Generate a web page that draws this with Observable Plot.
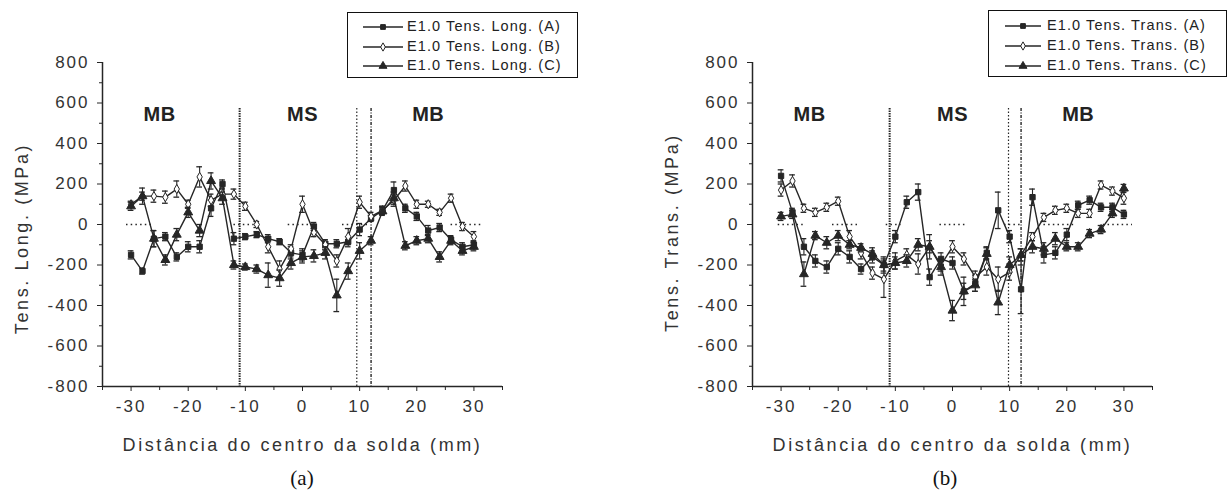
<!DOCTYPE html>
<html><head><meta charset="utf-8">
<script src="https://cdn.jsdelivr.net/npm/d3@7"></script>
<script src="https://cdn.jsdelivr.net/npm/@observablehq/plot@0.6"></script>
<style>
body{margin:0;background:#fff;width:1231px;height:491px;position:relative;overflow:hidden;font-family:"Liberation Sans",Arial,sans-serif;}
.panel{position:absolute;top:0;}
.legend{position:absolute;border:1.5px solid #111;background:#fff;box-sizing:border-box;}
.legend .row{position:absolute;left:0;height:20px;font-size:14.5px;letter-spacing:1.1px;color:#222;white-space:nowrap}
.legend .row svg{position:absolute;top:3px}
.legend .row span{position:absolute;top:1px}
.caption{position:absolute;font-family:"Liberation Serif","Times New Roman",serif;font-size:21px;color:#111;transform:translate(-50%,-50%)}
</style></head>
<body>
<div id="root"></div>
<script>
// ---- categories / ticks ----
const positions = [-30,-28,-26,-24,-22,-20,-18,-16,-14,-12,-10,-8,-6,-4,-2,0,2,4,6,8,10,12,14,16,18,20,22,24,26,28,30];
const xTicks = [-30,-20,-10,0,10,20,30];
const xMinorTicks = [-35,-25,-15,-5,5,15,25,35];
const yTicks = [-800,-600,-400,-200,0,200,400,600,800];
const yMinorTicks = [-700,-500,-300,-100,100,300,500,700];
const xTitle = "Distância do centro da solda (mm)";
const zoneNames = ["MB","MS","MB"];
const zoneX = [-25, 0, 22];
const zoneY = 543;
const boundaryTop = 573;

// ---- panel (a): longitudinal stress ----
const longA = [-150,-230,-70,-60,-160,-110,-110,80,200,-70,-60,-50,-70,-85,-140,-150,-10,-95,-95,-85,-25,30,70,170,80,40,-30,-15,-75,-110,-100];
const longB = [100,140,140,135,175,100,235,120,150,150,90,0,-110,-220,-120,100,-40,-100,-180,-60,110,40,70,120,190,100,100,60,130,-10,-60];
const longC = [90,140,-70,-175,-50,60,-30,215,130,-200,-210,-220,-250,-265,-190,-160,-155,-140,-350,-230,-130,-80,65,130,-105,-80,-70,-160,-80,-130,-110];
const longAerr = [20,15,40,20,20,25,30,40,20,30,15,15,20,15,30,30,20,20,20,25,30,15,20,40,20,20,25,20,20,20,20];
const longBerr = [15,20,30,30,40,20,50,30,25,25,20,15,30,40,20,40,20,25,30,40,30,20,20,30,25,20,15,15,20,20,25];
const longCerr = [20,40,40,25,30,25,30,40,30,20,15,20,60,40,30,30,30,30,80,40,40,20,20,30,20,20,20,25,20,20,20];
const longZeroFrom = [-30.8,-12,-2.5,7,26];
const longZeroTo = [-26.3,-8,2.5,11.9,31.2];
const longBoundaries = [-11,9.5,12];
const longLegend = ["E1.0 Tens. Long. (A)","E1.0 Tens. Long. (B)","E1.0 Tens. Long. (C)"];
const longYTitle = "Tens. Long. (MPa)";

// ---- panel (b): transverse stress ----
const transA = [240,60,-110,-180,-210,-120,-160,-220,-160,-200,-60,110,160,-260,-170,-190,-330,-290,-140,70,-60,-320,135,-150,-140,-50,95,120,85,85,50];
const transB = [170,215,80,60,85,115,-60,-140,-240,-270,-180,-150,-195,-110,-200,-110,-170,-260,-210,-270,-235,-150,-60,35,70,80,55,55,195,165,130];
const transC = [40,50,-245,-55,-90,-55,-100,-115,-145,-200,-190,-180,-100,-110,-210,-425,-330,-300,-145,-385,-200,-150,-110,-120,-70,-110,-110,-45,-25,55,178];
const transAerr = [30,20,40,30,30,30,30,25,30,40,30,30,40,40,30,30,40,40,30,90,30,120,40,40,30,30,20,20,20,20,20];
const transBerr = [30,30,20,20,20,20,30,30,30,90,40,30,50,30,30,30,30,30,40,60,40,30,20,20,20,20,20,20,20,20,30];
const transCerr = [20,20,60,20,30,25,20,20,30,30,30,30,30,60,40,50,70,30,30,60,40,30,30,30,30,20,20,20,20,20,20];
const transZeroFrom = [-30.5,-21,-11.6,-2.2,9.1,16,26.4];
const transZeroTo = [-26,-16.5,-9,2.3,12.1,21.7,31.5];
const transBoundaries = [-11,9.8,12];
const transLegend = ["E1.0 Tens. Trans. (A)","E1.0 Tens. Trans. (B)","E1.0 Tens. Trans. (C)"];
const transYTitle = "Tens. Trans. (MPa)";

// ---- styles ----
const ink = "#262626";
const markerStyles = [
  {symbol:"square", fill:ink, stroke:ink, r:3},
  {symbol:"diamond", fill:"#fff", stroke:ink, r:2.8},
  {symbol:"triangle", fill:ink, stroke:ink, r:3.3}
];
const boundaryStyles = [
  {dash:"1.5,1", w:2},
  {dash:"1.5,2", w:1.2},
  {dash:"3,1.5,1,1.5", w:1.4}
];
const fmt = d => String(d);

function panel(values, errors, zeroFrom, zeroTo, boundaries, yTitle, yTitleDy) {
  const marks = [];
  marks.push(Plot.ruleY(zeroFrom.map((_, i) => i), {y: 0, x1: i => zeroFrom[i], x2: i => zeroTo[i], stroke: ink, strokeWidth: 1.3, strokeDasharray: "1.5,3.2"}));
  boundaries.forEach((b, i) => marks.push(Plot.ruleX([b], {x: d => d, y1: boundaryTop, y2: -800, stroke: ink, strokeWidth: boundaryStyles[i].w, strokeDasharray: boundaryStyles[i].dash})));
  values.forEach((vals, s) => {
    const data = positions.map((x, i) => ({x, v: vals[i], e: errors[s][i]}));
    marks.push(Plot.ruleX(data, {x: "x", y1: d => d.v - d.e, y2: d => d.v + d.e, stroke: ink, strokeWidth: 1.1}));
    marks.push(Plot.ruleY(data, {y: d => d.v + d.e, x1: d => d.x - 0.5, x2: d => d.x + 0.5, stroke: ink, strokeWidth: 1.3}));
    marks.push(Plot.ruleY(data, {y: d => d.v - d.e, x1: d => d.x - 0.5, x2: d => d.x + 0.5, stroke: ink, strokeWidth: 1.3}));
    marks.push(Plot.line(data, {x: "x", y: "v", stroke: ink, strokeWidth: 1.4}));
    const m = markerStyles[s];
    marks.push(Plot.dot(data, {x: "x", y: "v", symbol: m.symbol, r: m.r, fill: m.fill, stroke: m.stroke, strokeWidth: 1}));
  });
  marks.push(Plot.text(zoneNames.map((_, i) => i), {x: i => zoneX[i], y: zoneY, text: i => zoneNames[i], fontWeight: "bold", fontSize: 20, fill: "#222", className: "zone"}));
  marks.push(Plot.axisX({ticks: xMinorTicks, tickSize: 4, tickFormat: () => "", label: null, stroke: ink}));
  marks.push(Plot.axisX({ticks: xTicks, tickSize: 5, tickPadding: 8, tickFormat: fmt, label: null, fontSize: 17, fill: "#333", stroke: ink, className: "ticklab"}));
  marks.push(Plot.axisY({ticks: yMinorTicks, tickSize: 3, tickFormat: () => "", label: null, stroke: ink}));
  marks.push(Plot.axisY({ticks: yTicks, tickSize: 5, tickPadding: 8, tickFormat: fmt, label: null, fontSize: 17, fill: "#333", stroke: ink, className: "ticklab"}));
  marks.push(Plot.ruleY([-800], {stroke: ink, strokeWidth: 1.5}));
  marks.push(Plot.ruleX([-35], {stroke: ink, strokeWidth: 1.5}));
  marks.push(Plot.text([xTitle], {frameAnchor: "bottom", lineAnchor: "middle", textAnchor: "middle", dy: 59, fontSize: 18, fill: "#333", className: "title"}));
  marks.push(Plot.text([yTitle], {frameAnchor: "left", textAnchor: "middle", lineAnchor: "middle", rotate: -90, dx: -80, dy: yTitleDy, fontSize: 18, fill: "#333", className: "title"}));
  const svg = Plot.plot({
    width: 560, height: 491,
    marginLeft: 102, marginRight: 58, marginTop: 62, marginBottom: 105,
    x: {domain: [-35, 35]},
    y: {domain: [-800, 800]},
    style: {fontFamily: "'Liberation Sans', Arial, sans-serif", background: "transparent", overflow: "visible"},
    marks
  });
  // letter spacing to mimic the stretched scanned lettering
  svg.querySelectorAll("text").forEach(t => t.setAttribute("letter-spacing", "2"));
  svg.querySelectorAll(".title text, text.title").forEach(t => t.setAttribute("letter-spacing", "2.6"));
  svg.querySelectorAll(".zone text, text.zone").forEach(t => t.setAttribute("letter-spacing", "0.5"));
  return svg;
}

function legend(labels, box) {
  const div = document.createElement("div");
  div.className = "legend";
  Object.assign(div.style, {left: box.left + "px", top: box.top + "px", width: box.width + "px", height: box.height + "px"});
  labels.forEach((lab, i) => {
    const row = document.createElement("div");
    row.className = "row";
    row.style.top = box.rowTops[i] + "px";
    const m = markerStyles[i];
    const sym = d3.symbol(m.symbol === "square" ? d3.symbolSquare : m.symbol === "diamond" ? d3.symbolDiamond : d3.symbolTriangle, Math.PI * m.r * m.r * 0.8)();
    row.innerHTML = `<svg width="${box.swW}" height="14" style="left:${box.swX}px"><line x1="0" x2="${box.swW}" y1="7" y2="7" stroke="${ink}" stroke-width="1.3"/><path d="${sym}" transform="translate(${box.swW/2},7)" fill="${m.fill}" stroke="${m.stroke}"/></svg><span style="left:${box.textX}px">${lab}</span>`;
    div.appendChild(row);
  });
  return div;
}

const root = document.getElementById("root");
const pa = panel([longA, longB, longC], [longAerr, longBerr, longCerr], longZeroFrom, longZeroTo, longBoundaries, longYTitle, 14);
pa.classList.add("panel"); pa.style.left = "0px";
root.appendChild(pa);
const pb = panel([transA, transB, transC], [transAerr, transBerr, transCerr], transZeroFrom, transZeroTo, transBoundaries, transYTitle, 8);
pb.classList.add("panel"); pb.style.left = "650px";
root.appendChild(pb);

root.appendChild(legend(longLegend, {left: 347, top: 12, width: 231, height: 66, rowTops: [4, 24, 43], swX: 15, swW: 40, textX: 59}));
root.appendChild(legend(transLegend, {left: 988, top: 10, width: 239, height: 67, rowTops: [5, 25, 45], swX: 16, swW: 36, textX: 58}));

["(a)", "(b)"].forEach((c, i) => {
  const d = document.createElement("div");
  d.className = "caption";
  d.textContent = c;
  d.style.left = (i === 0 ? 302 : 945) + "px";
  d.style.top = "478px";
  root.appendChild(d);
});
</script>
</body></html>
